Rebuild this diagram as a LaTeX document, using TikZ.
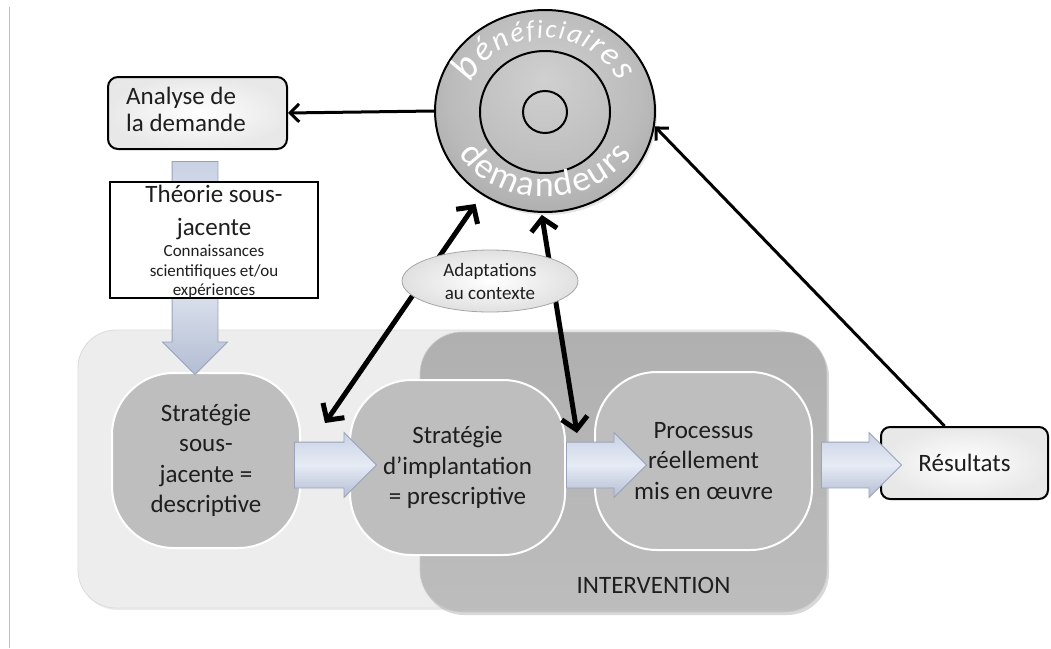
\documentclass[tikz,border=0pt]{standalone}
\usepackage{fontspec}
\setmainfont{Carlito}
\usetikzlibrary{arrows.meta,shapes.geometric,shapes.arrows,shapes.misc,shadows,decorations.text,calc}
\definecolor{txt}{HTML}{1E1E1E}
\definecolor{lightzone}{HTML}{EDEDED}
\definecolor{lightedge}{HTML}{DCDCDC}
\definecolor{innerfill}{HTML}{BEBEBE}
\definecolor{arrtop}{HTML}{C9D2E4}
\definecolor{arrmid}{HTML}{E6EBF5}
\definecolor{arrbot}{HTML}{B3BDD3}
\definecolor{arredge}{HTML}{98A3BA}
\definecolor{circin}{HTML}{D0D0D0}
\definecolor{circmid}{HTML}{BBBBBB}
\definecolor{circout}{HTML}{A9A9A9}
\definecolor{leftline}{HTML}{BDBDBD}
\pgfdeclareradialshading{circshade}{\pgfpoint{0bp}{8bp}}{color(0bp)=(circin); color(22bp)=(circmid); color(32bp)=(circout); color(50bp)=(circout)}
\tikzset{
  maintext/.style={font=\fontsize{25}{30.5}\selectfont, text=txt, align=center},
  innershape/.style={rectangle, rounded corners=62pt, fill=innerfill, draw=white, line width=2pt, inner sep=0pt},
  blockarrow/.style={single arrow, single arrow head extend=9.5pt, inner xsep=0pt, inner ysep=22.5pt, minimum height=82pt, draw=arredge, line width=0.8pt, top color=arrtop, bottom color=arrbot, middle color=arrmid},
  whitebox/.style={rectangle, rounded corners=10pt, draw=black, line width=2pt, inner color=white, outer color=black!9, inner sep=0pt},
  conn/.style={line width=3pt, black, -{Straight Barb[length=9pt,width=18pt]}},
  dbl/.style={line width=5pt, black, {Straight Barb[length=12pt,width=26pt]}-{Straight Barb[length=12pt,width=26pt]}},
}
\begin{document}
\begin{tikzpicture}[x=1pt,y=-1pt]
\useasboundingbox[fill=white] (0,0) rectangle (1051,648);

% left rule
\coordinate (lt) at (9.5,7);
\coordinate (lb) at (9.5,648);
\draw[leftline, line width=1.2pt] (lt) -- (lb);

% zones
\node[rectangle, rounded corners=38pt, minimum width=732pt, minimum height=278pt, inner sep=0pt,
      fill=lightzone, draw=lightedge, line width=0.8pt,
      drop shadow={shadow xshift=1.5pt, shadow yshift=-2pt, opacity=0.15}] (zone) at (444,469) {};
\node[rectangle, rounded corners=42pt, minimum width=407pt, minimum height=280pt, inner sep=0pt,
      top color=black!31, bottom color=black!26, draw=black!20, line width=0.6pt,
      drop shadow={shadow xshift=2pt, shadow yshift=-3pt, opacity=0.3}] (intzone) at (623.5,472) {};

% inner shapes
\node[innershape, maintext, minimum width=188pt, minimum height=175pt] (s1) at (206,460.5)
  {Stratégie\\sous-\\jacente =\\descriptive};
\node[innershape, maintext, minimum width=215pt, minimum height=175pt] (s2) at (457.5,467.5)
  {Stratégie\\d’implantation\\= prescriptive};
\node[innershape, maintext, minimum width=217pt, minimum height=178pt] (s3) at (703.5,461)
  {Processus\\réellement\\mis en œuvre};

% results box
\node[whitebox, rounded corners=9pt, minimum width=167pt, minimum height=72pt, maintext] (res) at (964.5,463) {Résultats};

% block arrows
\node[blockarrow] (a1) at (324,465) {};
\node[blockarrow, minimum height=80pt] (a2) at (595,465) {};
\node[blockarrow, minimum height=80pt] (a3) at (850,465) {};
\node[blockarrow, rotate=-90, minimum height=213pt] (down) at (195,256.5) {};

% analyse box
\node[whitebox, minimum width=179pt, minimum height=72pt] (analyse) at (197.5,113) {};
\node[font=\fontsize{25}{27}\selectfont, text=txt, align=left, inner sep=0pt] (antxt) at (186,109)
  {Analyse de\\la demande};

% theorie box
\node[chamfered rectangle, chamfered rectangle corners={north east,south west},
      chamfered rectangle xsep=16pt, chamfered rectangle ysep=19pt,
      minimum width=208pt, minimum height=116pt, inner sep=0pt,
      draw=black, line width=2pt, fill=white] (theorie) at (214,240) {};
\node[font=\fontsize{25}{33}\selectfont, text=txt, align=center] (th1) at (214,212) {Théorie sous-\\jacente};
\node[font=\fontsize{17}{19.5}\selectfont, text=txt, align=center] (th2) at (214,272)
  {Connaissances\\scientifiques et/ou\\expériences};

% target
\node[ellipse, minimum width=220pt, minimum height=202pt, inner sep=0pt, draw=black, line width=2pt,
      shading=circshade,
      drop shadow={shadow xshift=2pt, shadow yshift=-3pt, opacity=0.2}] (target) at (545,111) {};
\draw[line width=2pt] ([yshift=-1pt]target.center) ellipse [x radius=65pt, y radius=61pt];
\draw[line width=2pt] ([yshift=-1pt]target.center) ellipse [x radius=22pt, y radius=21pt];
\begin{scope}[shift={(target.center)}, y=1pt]
  \path[decorate, decoration={text along path, text align={fit to path}, text color=white,
        text={|\fontsize{40}{40}\selectfont\itshape|b|\fontsize{34}{34}\selectfont\itshape|é|\fontsize{30}{30}\selectfont\itshape|n|\fontsize{28}{28}\selectfont\itshape|é|\fontsize{26}{26}\selectfont\itshape|fici|\fontsize{28}{28}\selectfont\itshape|ai|\fontsize{31}{31}\selectfont\itshape|r|\fontsize{33}{33}\selectfont\itshape|e|\fontsize{36}{36}\selectfont\itshape|s}}]
    (157:80pt and 73pt) arc[start angle=157, end angle=24, x radius=80pt, y radius=73pt];
  \path[decorate, decoration={text along path, text align={fit to path}, text color=white,
        text={|\fontsize{36}{36}\selectfont|demandeurs}}]
    (210:100pt and 86pt) arc[start angle=210, end angle=330, x radius=100pt, y radius=86pt];
\end{scope}

% connectors
\draw[conn] (target.west) -- (analyse.east);
\draw[conn] ([xshift=-20pt]res.north) -- (target.-8);
\coordinate (la) at (325,423);
\coordinate (ra) at (577,433);
\draw[dbl, shorten >=11pt] (la) -- (target.233);
\draw[dbl, shorten >=2pt] (ra) -- (target.268);

% adaptations
\node[ellipse, minimum width=176pt, minimum height=62pt, inner sep=0pt, draw=black!35, line width=0.8pt,
      inner color=white, outer color=black!12, font=\fontsize{19}{23}\selectfont, text=txt, align=center]
  (adapt) at (490,281) {Adaptations\\au contexte};

% label
\node[font=\fontsize{25}{25}\selectfont, text=txt] (intlabel) at (653.5,585) {INTERVENTION};
\end{tikzpicture}
\end{document}
